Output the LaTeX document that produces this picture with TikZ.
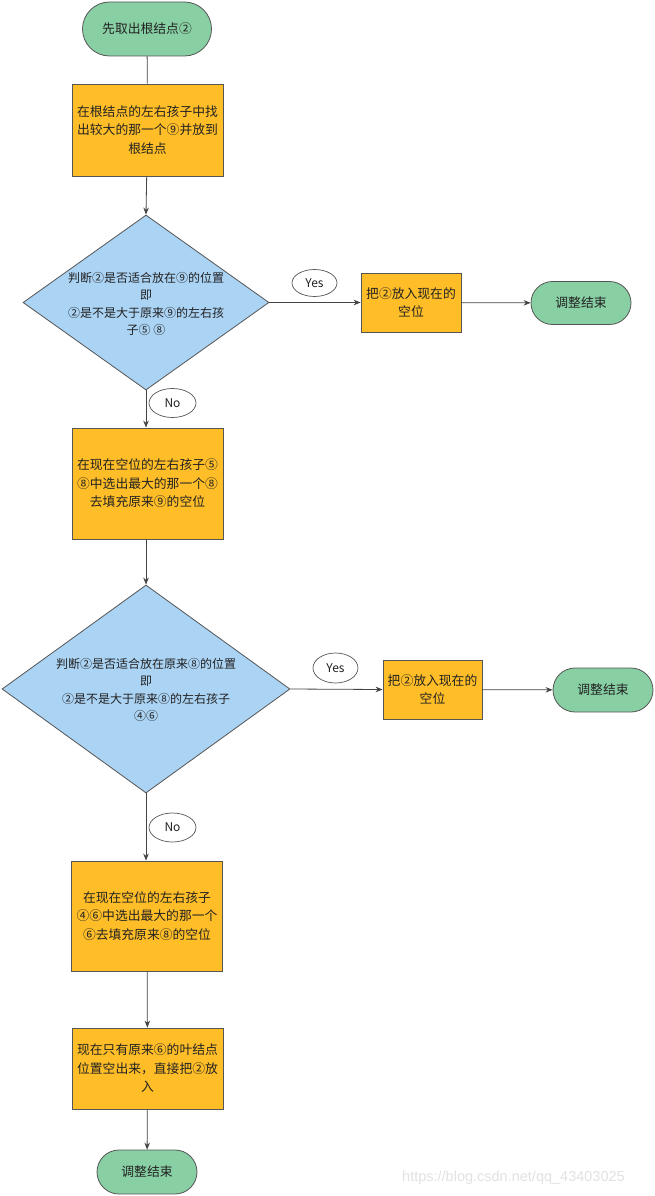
\documentclass[tikz,border=0pt]{standalone}
\usepackage{fontspec}
\setmainfont{Noto Sans CJK SC}
\newfontfamily\wmfont{Liberation Sans}
\usetikzlibrary{shapes.geometric,arrows.meta}
\definecolor{termgreen}{HTML}{88D0A4}
\definecolor{procorange}{HTML}{FFBE28}
\definecolor{decblue}{HTML}{ABD3F4}
\definecolor{bord}{HTML}{555555}
\definecolor{linec}{HTML}{444444}
\definecolor{txt}{HTML}{222222}
\definecolor{wm}{HTML}{E2E2E2}
\begin{document}
\begin{tikzpicture}[x=1pt,y=-1pt,
  every node/.style={inner sep=0pt, text=txt, font=\fontsize{12.8}{18.5}\selectfont},
  term/.style={draw=bord, line width=0.8pt, fill=termgreen, rectangle, align=center},
  proc/.style={draw=bord, line width=0.8pt, fill=procorange, rectangle, align=center},
  dec/.style={draw=bord, line width=0.8pt, fill=decblue, diamond, aspect=1.4},
  dectext/.style={align=center, font=\fontsize{12}{17.5}\selectfont},
  lab/.style={draw=bord, line width=0.7pt, fill=white, ellipse, font=\fontsize{12}{14}\selectfont},
  conn/.style={draw=linec, line width=0.8pt},
  arr/.style={conn, -{Stealth[length=7pt,width=5.5pt]}}
]
\useasboundingbox (0,0) rectangle (654,1196);
\fill[white] (0,0) rectangle (654,1196);

% nodes
\node[term, minimum width=129pt, minimum height=54pt, rounded corners=27pt] (start) at (147,29) {先取出根结点②};
\node[proc, minimum width=151pt, minimum height=92pt] (r1) at (147.5,130) {在根结点的左右孩子中找\\出较大的那一个⑨并放到\\根结点};
\node[dec, minimum width=246pt, minimum height=175pt] (d1) at (146,302.5) {};
\node[dectext] (d1t) at (146,304) {判断②是否适合放在⑨的位置\\即\\②是不是大于原来⑨的左右孩\\子⑤ ⑧};
\node[proc, minimum width=100pt, minimum height=59pt] (r2) at (411,302.5) {把②放入现在的\\空位};
\node[term, minimum width=100pt, minimum height=43pt, rounded corners=21.5pt] (e1) at (581,303) {调整结束};
\node[lab, minimum width=45pt, minimum height=27pt] (y1) at (314.5,283) {Yes};
\node[lab, minimum width=47pt, minimum height=29pt] (n1) at (172.5,403) {No};
\node[proc, minimum width=151pt, minimum height=111pt] (r3) at (147.5,483.5) {在现在空位的左右孩子⑤\\⑧中选出最大的那一个⑧\\去填充原来⑨的空位};
\node[dec, minimum width=288pt, minimum height=208pt] (d2) at (146,689) {};
\node[dectext] (d2t) at (146,690) {判断②是否适合放在原来⑧的位置\\即\\②是不是大于原来⑧的左右孩子\\④⑥};
\node[proc, minimum width=99pt, minimum height=59pt] (r4) at (432.5,689.5) {把②放入现在的\\空位};
\node[term, minimum width=100pt, minimum height=44pt, rounded corners=22pt] (e2) at (603,690) {调整结束};
\node[lab, minimum width=45pt, minimum height=30pt] (y2) at (335.5,668) {Yes};
\node[lab, minimum width=47pt, minimum height=29pt] (n2) at (172.5,827.5) {No};
\node[proc, minimum width=151pt, minimum height=110pt] (r5) at (147,916) {在现在空位的左右孩子\\④⑥中选出最大的那一个\\⑥去填充原来⑧的空位};
\node[proc, minimum width=151pt, minimum height=81pt] (r6) at (147.5,1068.5) {现在只有原来⑥的叶结点\\位置空出来，直接把②放\\入};
\node[term, minimum width=100pt, minimum height=44pt, rounded corners=22pt] (e3) at (147,1172) {调整结束};
\node[text=wm, font=\wmfont\fontsize{14.5}{16}\selectfont, anchor=west] (wmk) at (402,1178) {https://blog.csdn.net/qq\_43403025};

% connectors
\draw[conn] (start) -- (r1);
\draw[arr] (r1) -- (d1.north);
\draw[arr] (d1.east) -- (r2.west);
\draw[arr] (r2) -- (e1);
\draw[arr] (d1.south) -- (r3.north -| d1.south);
\draw[arr] (r3.south -| d2.north) -- (d2.north);
\draw[arr] (d2.east) -- (r4.west);
\draw[arr] (r4) -- (e2);
\draw[arr] (d2.south) -- (r5.north -| d2.south);
\draw[arr] (r5) -- (r6);
\draw[arr] (r6) -- (e3);
\end{tikzpicture}
\end{document}
